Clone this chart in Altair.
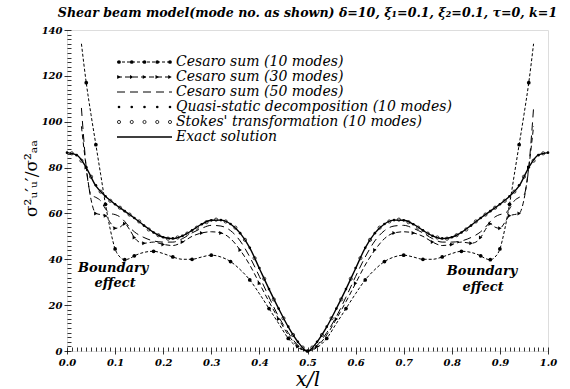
import altair as alt
import pandas as pd

TITLE = "Shear beam model(mode no. as shown) δ=10, ξ₁=0.1, ξ₂=0.1, τ=0, k=1"
Y_TITLE = "σ²ᵤ′ᵤ′/σ²ₐₐ"

series_names = [
    "Cesaro sum (10 modes)",
    "Cesaro sum (30 modes)",
    "Cesaro sum (50 modes)",
    "Quasi-static decomposition (10 modes)",
    "Stokes' transformation (10 modes)",
    "Exact solution",
]

# Exact solution (0.02 grid)
exact_x = [round(i * 0.02, 2) for i in range(51)]
exact_y = [86.5, 85.5, 80.0, 72.0, 67.5, 64.0, 61.0, 58.0, 54.8, 51.7, 49.6, 49.0, 50.2,
           52.6, 55.3, 57.0, 57.1, 55.4, 51.4, 45.0, 36.0, 27.0, 18.5, 10.5, 4.0, 0.0,
           4.0, 10.5, 18.5, 27.0, 36.0, 45.0, 51.4, 55.4, 57.1, 57.0, 55.3, 52.6, 50.2,
           49.0, 49.6, 51.7, 54.8, 58.0, 61.0, 64.0, 67.5, 72.0, 80.0, 85.5, 86.5]

# Quasi-static decomposition (10 modes) — points on the exact curve
quasi_x = [round(i * 0.02, 2) for i in range(51)]
quasi_y = [86.5, 85.4, 80.2, 72.3, 67.5, 64.0, 61.0, 58.0, 54.7, 51.7, 49.6, 49.1, 50.2,
           52.6, 55.3, 57.0, 57.1, 55.4, 51.4, 45.0, 36.2, 27.0, 18.5, 10.6, 4.0, 0.0,
           4.0, 10.6, 18.5, 27.0, 36.2, 45.0, 51.4, 55.4, 57.1, 57.0, 55.3, 52.6, 50.2,
           49.1, 49.6, 51.7, 54.7, 58.0, 61.0, 64.0, 67.5, 72.3, 80.2, 85.4, 86.5]

# Stokes' transformation (10 modes) — points on the exact curve (0.01, 0.03, ...)
stokes_x = [round(0.01 + i * 0.02, 2) for i in range(50)]
stokes_y = [86.2, 83.0, 76.0, 69.5, 65.5, 62.5, 59.5, 56.5, 53.0, 50.5, 49.0, 49.5, 51.2,
            53.8, 56.2, 57.3, 56.5, 53.8, 48.5, 40.5, 31.5, 22.5, 14.3, 7.0, 1.5,
            1.5, 7.0, 14.3, 22.5, 31.5, 40.5, 48.5, 53.8, 56.5, 57.3, 56.2, 53.8, 51.2,
            49.5, 49.0, 50.5, 53.0, 56.5, 59.5, 62.5, 65.5, 69.5, 76.0, 83.0, 86.2]

# Cesaro sum (10 modes)
c10_x = [0.03, 0.04, 0.05, 0.06, 0.07, 0.08, 0.09, 0.10, 0.11, 0.12, 0.13, 0.14, 0.16,
         0.18, 0.20, 0.22, 0.24, 0.26, 0.28, 0.30, 0.32, 0.34, 0.36, 0.38, 0.40, 0.42,
         0.44, 0.46, 0.48, 0.50, 0.52, 0.54, 0.56, 0.58, 0.60, 0.62, 0.64, 0.66, 0.68,
         0.70, 0.72, 0.74, 0.76, 0.78, 0.80, 0.82, 0.84, 0.86, 0.87, 0.88, 0.89, 0.90,
         0.91, 0.92, 0.93, 0.94, 0.95, 0.96, 0.97]
c10_y = [134.0, 117.0, 103.0, 90.0, 77.0, 64.0, 53.0, 44.5, 41.0, 39.8, 40.3, 41.5, 43.0,
         43.5, 42.5, 41.0, 40.0, 40.0, 41.0, 41.8, 41.0, 39.0, 35.5, 31.0, 25.0, 18.5,
         12.0, 5.5, 1.5, 0.0, 1.5, 5.5, 12.0, 18.5, 25.0, 31.0, 35.5, 39.0, 41.0,
         41.8, 41.0, 40.0, 40.0, 41.0, 42.5, 43.5, 43.0, 41.5, 40.3, 39.8, 41.0, 44.5,
         53.0, 64.0, 77.0, 90.0, 103.0, 117.0, 134.0]

# Cesaro sum (30 modes)
c30_x = [0.03, 0.04, 0.05, 0.06, 0.07, 0.08, 0.09, 0.10, 0.11, 0.12, 0.13, 0.14, 0.15,
         0.16, 0.18, 0.20, 0.22, 0.24, 0.26, 0.28, 0.30, 0.32, 0.34, 0.36, 0.38, 0.40,
         0.42, 0.44, 0.46, 0.48, 0.50, 0.52, 0.54, 0.56, 0.58, 0.60, 0.62, 0.64, 0.66,
         0.68, 0.70, 0.72, 0.74, 0.76, 0.78, 0.80, 0.82, 0.84, 0.85, 0.86, 0.87, 0.88,
         0.89, 0.90, 0.91, 0.92, 0.93, 0.94, 0.95, 0.96, 0.97]
c30_y = [98.0, 80.0, 66.0, 60.0, 59.5, 59.0, 56.0, 53.5, 54.0, 55.5, 53.0, 49.5, 47.5,
         47.0, 47.5, 46.5, 46.0, 47.5, 50.0, 51.5, 52.0, 51.5, 49.0, 44.0, 37.5, 29.5,
         21.5, 14.0, 7.0, 2.0, 0.0, 2.0, 7.0, 14.0, 21.5, 29.5, 37.5, 44.0, 49.0,
         51.5, 52.0, 51.5, 50.0, 47.5, 46.0, 46.5, 47.5, 47.0, 47.5, 49.5, 53.0, 55.5,
         54.0, 53.5, 56.0, 59.0, 59.5, 60.0, 66.0, 80.0, 98.0]

# Cesaro sum (50 modes)
c50_x = [0.03, 0.035, 0.04, 0.045, 0.05, 0.06, 0.07, 0.08, 0.09, 0.10, 0.11, 0.12, 0.13,
         0.14, 0.16, 0.18, 0.20, 0.22, 0.24, 0.26, 0.28, 0.30, 0.32, 0.34, 0.36, 0.38,
         0.40, 0.42, 0.44, 0.46, 0.48, 0.50, 0.52, 0.54, 0.56, 0.58, 0.60, 0.62, 0.64,
         0.66, 0.68, 0.70, 0.72, 0.74, 0.76, 0.78, 0.80, 0.82, 0.84, 0.86, 0.87, 0.88,
         0.89, 0.90, 0.91, 0.92, 0.93, 0.94, 0.95, 0.955, 0.96, 0.965, 0.97]
c50_y = [106.0, 92.0, 80.0, 72.0, 68.0, 67.0, 65.5, 62.0, 60.0, 59.5, 58.5, 56.5, 54.0,
         52.0, 49.5, 48.0, 47.5, 47.5, 49.0, 51.5, 53.5, 54.8, 54.5, 52.5, 48.0, 41.0,
         32.5, 23.5, 15.0, 8.0, 2.5, 0.0, 2.5, 8.0, 15.0, 23.5, 32.5, 41.0, 48.0,
         52.5, 54.5, 54.8, 53.5, 51.5, 49.0, 47.5, 47.5, 48.0, 49.5, 52.0, 54.0, 56.5,
         58.5, 59.5, 60.0, 62.0, 65.5, 67.0, 68.0, 72.0, 80.0, 92.0, 106.0]

# Annotations
annot_text = ["Boundary", "effect", "Boundary", "effect"]
annot_x = [0.096, 0.100, 0.863, 0.865]
annot_y = [36.2, 29.7, 35.0, 28.0]

x_ticks = [round(i * 0.01, 2) for i in range(101)]
y_ticks = list(range(0, 141, 2))

rows = []
for name, xs, ys in [
    (series_names[0], c10_x, c10_y),
    (series_names[1], c30_x, c30_y),
    (series_names[2], c50_x, c50_y),
    (series_names[3], quasi_x, quasi_y),
    (series_names[4], stokes_x, stokes_y),
    (series_names[5], exact_x, exact_y),
]:
    for xv, yv in zip(xs, ys):
        rows.append({"series": name, "x": xv, "y": yv})
df = pd.DataFrame(rows)

annot_df = pd.DataFrame({"x": annot_x, "y": annot_y, "t": annot_text})
leg_df = pd.DataFrame({"series": series_names})
leg_mk_df = pd.DataFrame([{"series": s, "k": k} for s in series_names[:5] for k in range(5)])

SERIF = "DejaVu Serif"
XS = alt.Scale(domain=[0, 1], nice=False, zero=False)
YS = alt.Scale(domain=[0, 140], nice=False, zero=True)

x_axis = alt.Axis(
    values=x_ticks, format=".1f",
    labelExpr="round(datum.value*100) % 10 == 0 ? datum.label : ''",
    labelOverlap=False, labelFlush=False, domain=False, grid=False, offset=-4,
    tickColor="black", tickWidth=0.8,
    tickSize={"condition": {"test": "round(datum.value*100) % 10 == 0", "value": 7}, "value": 4},
    labelFont=SERIF, labelFontStyle="italic", labelFontWeight="bold", labelFontSize=10,
    labelColor="black", labelPadding=3,
    title="x/l", titleFont=SERIF, titleFontStyle="italic", titleFontWeight="normal",
    titleFontSize=20, titleColor="black", titleY=38, titleBaseline="alphabetic",
)
y_axis = alt.Axis(
    values=y_ticks,
    labelExpr="datum.value % 20 == 0 ? datum.label : ''",
    labelOverlap=False, labelFlush=False, domain=False, grid=False, offset=-4,
    tickColor="black", tickWidth=0.8,
    tickSize={"condition": {"test": "datum.value % 20 == 0", "value": 7}, "value": 4},
    labelFont=SERIF, labelFontStyle="italic", labelFontWeight="bold", labelFontSize=10,
    labelColor="black", labelPadding=2,
    title=Y_TITLE, titleFont=SERIF, titleFontWeight="normal", titleFontSize=17,
    titleColor="black", titleX=-40, titleY=148, titleAngle=270, titleAlign="center",
    titleBaseline="middle",
)


def enc(first=False):
    return dict(
        x=alt.X("x:Q", scale=XS, axis=x_axis if first else None),
        y=alt.Y("y:Q", scale=YS, axis=y_axis if first else None),
    )


def sel(name):
    return alt.Chart(df).transform_filter(alt.datum.series == name)


layers = []
# lines
layers.append(sel(series_names[5]).mark_line(color="black", strokeWidth=1.4, interpolate="monotone").encode(**enc(True)))
layers.append(sel(series_names[2]).mark_line(color="black", strokeWidth=1, strokeDash=[8, 5], interpolate="monotone").encode(**enc()))
layers.append(sel(series_names[1]).mark_line(color="black", strokeWidth=1, strokeDash=[5, 3], interpolate="monotone").encode(**enc()))
layers.append(sel(series_names[0]).mark_line(color="black", strokeWidth=1, strokeDash=[3, 2], interpolate="monotone").encode(**enc()))
# markers
layers.append(sel(series_names[0]).transform_window(rn="row_number()").transform_filter("datum.rn % 2 == 0")
              .mark_point(shape="circle", filled=True, size=14, color="black", opacity=1).encode(**enc()))
layers.append(sel(series_names[1]).transform_window(rn="row_number()").transform_filter("datum.rn % 2 == 0")
              .mark_point(shape="triangle-right", filled=True, size=16, color="black", opacity=1).encode(**enc()))
layers.append(sel(series_names[3]).mark_point(shape="circle", filled=True, size=7, color="black", opacity=1).encode(**enc()))
layers.append(sel(series_names[4]).mark_point(shape="circle", filled=False, size=10, strokeWidth=0.8, color="black", opacity=1).encode(**enc()))
# annotations
layers.append(alt.Chart(annot_df).mark_text(font=SERIF, fontStyle="italic", fontWeight="bold", fontSize=13,
                                            color="black", align="center", baseline="middle")
              .encode(x=alt.X("x:Q", scale=XS, axis=None), y=alt.Y("y:Q", scale=YS, axis=None), text="t:N"))

# legend (drawn by hand inside the plot)
LY = alt.Scale(type="point", domain=series_names, range=[32, 107], padding=0)
LX = alt.Scale(domain=[0, 4], range=[52, 103])
dashes = {series_names[0]: [3, 2], series_names[1]: [5, 3], series_names[2]: [8, 5], series_names[5]: [1, 0]}
for s, d in dashes.items():
    layers.append(alt.Chart(leg_df).transform_filter(alt.datum.series == s)
                  .mark_rule(color="black", strokeWidth=1.4 if s == series_names[5] else 1, strokeDash=d)
                  .encode(x=alt.value(50), x2=alt.value(105), y=alt.Y("series:N", scale=LY, axis=None)))
mk_styles = [
    (series_names[0], dict(shape="circle", filled=True, size=14)),
    (series_names[1], dict(shape="triangle-right", filled=True, size=16)),
    (series_names[3], dict(shape="circle", filled=True, size=7)),
    (series_names[4], dict(shape="circle", filled=False, size=10, strokeWidth=0.8)),
]
for s, st in mk_styles:
    layers.append(alt.Chart(leg_mk_df).transform_filter(alt.datum.series == s)
                  .mark_point(color="black", opacity=1, **st)
                  .encode(x=alt.X("k:Q", scale=LX, axis=None), y=alt.Y("series:N", scale=LY, axis=None)))
layers.append(alt.Chart(leg_df).mark_text(font=SERIF, fontStyle="italic", fontSize=14, color="black",
                                          align="left", baseline="middle")
              .encode(x=alt.value(109), y=alt.Y("series:N", scale=LY, axis=None), text="series:N"))

chart = (
    alt.layer(*layers)
    .resolve_scale(x="independent", y="independent")
    .properties(
        width=481, height=321,
        padding={"left": 67, "top": 30, "right": 22, "bottom": 38},
        autosize=alt.AutoSizeParams(type="none"),
        title=alt.TitleParams(text=TITLE, font=SERIF, fontStyle="italic", fontWeight="bold",
                              fontSize=12.6, color="black", anchor="middle", frame="group",
                              baseline="alphabetic", offset=4, dy=9),
    )
    .configure_view(stroke="black", strokeWidth=1.2)
    .configure(background="white")
)

chart.save("out.html", embed_options={"renderer": "svg", "actions": False})
